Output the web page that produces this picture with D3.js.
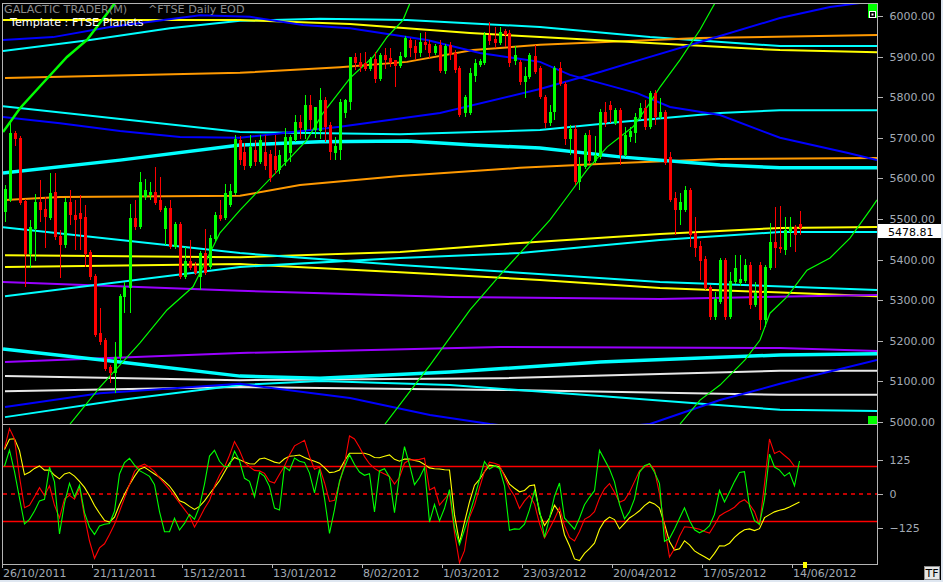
<!DOCTYPE html>
<html><head><meta charset="utf-8">
<script src="https://cdn.jsdelivr.net/npm/d3@7"></script>
<style>
body{margin:0;background:#000;overflow:hidden}
svg{display:block}
text{font-family:"DejaVu Sans",Verdana,sans-serif}
</style></head>
<body><svg id="c" width="943" height="582"></svg>
<script>
// ---------------- DATA ----------------
const tickIdx = [0,18,36,54,72,88,104,122,140,158];
const tickLabels = ["26/10/2011","21/11/2011","15/12/2011","13/01/2012","8/02/2012","1/03/2012","23/03/2012","20/04/2012","17/05/2012","14/06/2012"];
const priceTicks = [5000,5100,5200,5300,5400,5500,5600,5700,5800,5900,6000];
const oscTicks = [-125,0,125];
const lastPrice = 5478.81;

const open = [5517,5547,5712,5700,5544,5414,5475,5542,5525,5502,5566,5458,5436,5542,5510,5515,5505,5419,5360,5219,
5202,5135,5121,5160,5308,5330,5502,5480,5554,5559,5566,5547,5475,5527,5431,5488,5357,5397,5384,5357,
5416,5382,5451,5510,5502,5535,5564,5695,5665,5630,5670,5640,5665,5660,5655,5620,5640,5663,5695,5739,
5719,5781,5719,5717,5793,5732,5663,5670,5761,5788,5899,5887,5884,5869,5894,5845,5904,5897,5892,5877,
5899,5941,5926,5909,5936,5931,5909,5929,5865,5929,5909,5872,5761,5761,5852,5879,5884,5953,5943,5933,
5963,5958,5890,5887,5837,5850,5901,5872,5800,5736,5764,5872,5833,5697,5722,5591,5628,5707,5643,5653,
5764,5781,5736,5768,5658,5702,5712,5751,5773,5727,5810,5751,5764,5653,5552,5522,5522,5571,5466,5434,
5401,5333,5259,5296,5399,5259,5345,5342,5347,5387,5288,5387,5251,5379,5443,5431,5424,5468,5480,5488];
const high = [5584,5744,5717,5705,5549,5498,5562,5596,5554,5613,5613,5473,5552,5571,5547,5559,5535,5424,5365,5281,
5207,5140,5197,5315,5345,5537,5547,5616,5599,5591,5628,5604,5532,5547,5493,5493,5431,5448,5394,5421,
5475,5461,5517,5547,5586,5586,5707,5705,5687,5707,5695,5707,5707,5670,5707,5670,5724,5707,5756,5756,
5805,5805,5776,5822,5800,5740,5702,5795,5795,5899,5909,5909,5911,5899,5911,5909,5921,5921,5892,5911,
5951,5946,5941,5958,5961,5941,5931,5941,5931,5936,5916,5877,5805,5872,5894,5894,5961,5985,5973,5973,
5968,5966,5926,5892,5874,5909,5929,5877,5805,5781,5877,5887,5837,5732,5732,5653,5712,5719,5704,5771,
5788,5791,5773,5773,5727,5727,5761,5786,5793,5815,5818,5798,5768,5665,5566,5564,5581,5576,5505,5446,
5409,5338,5320,5404,5404,5370,5411,5411,5401,5394,5345,5394,5387,5490,5530,5532,5505,5505,5485,5520];
const low = [5493,5542,5680,5535,5333,5379,5397,5493,5429,5498,5448,5355,5429,5485,5424,5424,5382,5350,5209,5190,
5126,5096,5071,5153,5268,5268,5473,5475,5547,5547,5535,5517,5436,5426,5426,5352,5352,5374,5362,5325,
5362,5377,5446,5495,5498,5530,5559,5633,5620,5625,5630,5635,5620,5590,5610,5610,5630,5640,5690,5697,
5697,5719,5700,5697,5690,5645,5645,5645,5750,5768,5867,5862,5865,5865,5835,5840,5869,5874,5825,5872,
5897,5899,5892,5899,5916,5897,5904,5860,5857,5892,5860,5751,5751,5756,5837,5874,5879,5929,5921,5929,
5924,5874,5879,5830,5798,5845,5857,5796,5724,5729,5744,5828,5682,5658,5584,5571,5623,5638,5638,5648,
5727,5736,5732,5633,5653,5690,5687,5744,5719,5722,5732,5746,5633,5542,5461,5485,5517,5431,5406,5350,
5325,5251,5251,5291,5251,5254,5340,5335,5342,5278,5283,5227,5234,5374,5379,5416,5411,5431,5419,5461];
const close = [5574,5712,5697,5539,5414,5480,5542,5522,5505,5564,5456,5436,5542,5510,5498,5500,5414,5357,5214,5197,
5130,5121,5160,5310,5333,5502,5480,5591,5571,5566,5539,5522,5527,5431,5488,5357,5397,5379,5367,5416,
5367,5453,5510,5500,5564,5569,5697,5645,5630,5677,5640,5695,5630,5600,5620,5658,5702,5702,5739,5724,
5781,5744,5776,5793,5727,5665,5680,5788,5793,5899,5884,5874,5869,5894,5845,5904,5892,5884,5877,5901,
5946,5921,5909,5936,5929,5909,5926,5865,5926,5904,5867,5756,5800,5860,5884,5889,5953,5938,5933,5961,
5953,5884,5905,5837,5852,5904,5862,5800,5736,5764,5872,5833,5697,5722,5591,5631,5707,5643,5658,5764,
5736,5768,5768,5658,5707,5717,5751,5773,5727,5810,5751,5764,5638,5547,5522,5542,5571,5461,5429,5397,
5330,5259,5303,5399,5259,5347,5379,5352,5387,5288,5318,5251,5382,5443,5429,5426,5473,5480,5461,5478.81];

const oscGreen = [101,160,81,-15,-109,-92,-62,-25,-19,98,44,-145,-33,39,-11,32,-68,-121,-147,-116,
-110,-107,-63,73,114,130,105,85,75,64,34,-64,-137,-137,-88,-131,-107,-74,-92,-46,
36,138,159,119,99,101,156,121,57,46,-10,78,64,27,-51,-58,99,85,131,119,
115,76,4,90,-15,-143,-57,47,98,143,107,80,68,74,-65,84,92,61,-68,70,
172,107,34,59,96,-102,-38,-98,-52,16,-122,-184,-130,-73,-12,52,118,91,103,93,
30,-132,-127,-128,-110,-57,12,-57,-158,-88,-8,40,-87,-108,-128,-87,-39,-12,12,159,
125,91,44,-38,-90,-65,-18,78,103,110,79,38,-172,-162,-127,-88,-50,-96,-130,-141,
-132,-115,-74,13,-29,7,45,78,81,-44,-97,-110,-19,145,98,87,65,78,30,120];
const oscRed = [166,238,200,62,-50,-41,-10,23,-6,30,-41,-87,-18,-5,-19,22,-82,-171,-234,-196,
-181,-147,-110,-63,-15,34,82,101,109,97,82,59,38,16,-8,-32,-56,-80,-120,-88,
-53,-24,28,68,98,141,191,158,115,99,86,84,75,46,40,72,102,142,175,185,
195,137,90,98,41,-27,-23,41,110,211,200,170,136,110,93,82,73,64,36,61,
112,124,124,126,130,15,24,-40,-19,4,-141,-250,-206,-85,-41,23,82,116,112,105,
63,21,-7,-53,-25,-5,-36,-108,-160,-126,-91,-50,-115,-158,-171,-136,-92,-82,-64,-15,
19,38,6,-30,-22,6,45,84,98,110,87,0,-120,-229,-199,-154,-119,-121,-124,-128,
-136,-142,-113,-80,-68,-59,-48,-30,-21,-38,-64,-114,36,200,147,156,140,125,100,100];
const oscYellow = [162,199,201,158,70,79,93,102,87,87,68,55,73,78,65,46,24,-6,-42,-70,
-96,-102,-84,-39,-1,34,64,90,97,85,73,61,46,29,4,-25,-32,-45,-56,-45,
-25,0,24,48,80,112,133,125,116,110,109,127,131,124,116,112,128,137,139,142,
133,125,119,112,96,78,80,87,120,148,148,148,148,143,133,132,137,142,126,119,
127,127,122,118,107,95,92,91,88,87,-76,-178,-102,-29,32,53,81,105,103,99,
69,36,21,8,13,30,33,-69,-115,-87,-41,-67,-148,-188,-236,-242,-216,-199,-179,-128,
-98,-84,-93,-127,-107,-87,-75,-61,-42,-29,-36,-51,-109,-173,-204,-199,-170,-185,-207,-218,
-228,-239,-216,-188,-189,-179,-158,-142,-130,-127,-133,-126,-86,-75,-65,-59,-55,-47,-38,-29];

// planetary lines: [bar index, price]
const cyanTop = [[-0.3,5914],[17.1,5941],[33.1,5970],[47.1,5988],[63.1,5993],[80.5,5990],[107.1,5973],[129.1,5948],[155.1,5926],[174.5,5926]];
const yellowTop = [[-0.3,5990],[47.1,5990],[69.1,5980],[93.1,5958],[107.1,5948],[155.1,5916],[174.5,5911]];
const orangeTop = [[0.1,5847],[47.1,5860],[67.1,5874],[80.5,5887],[93.7,5916],[107.1,5929],[139.1,5946],[174.5,5953]];
const blueRise = [[-0.3,5751],[11.1,5736],[23.1,5717],[35.1,5702],[47.1,5700],[67.1,5727],[87.1,5761],[107.1,5820],[119.1,5862],[127.1,5892],[139.1,5936],[155.1,5995],[165.1,6022],[171.1,6032]];
const blueFall = [[-0.3,5941],[9.7,5948],[21.1,5973],[39.1,6002],[49.1,5998],[59.7,5978],[69.1,5970],[84.5,5941],[95.1,5909],[107.1,5887],[113.1,5855],[126.5,5810],[133.1,5776],[143.1,5756],[155.1,5700],[168.5,5663],[174.5,5645]];
const cyanMid = [[-0.3,5778],[47.1,5714],[79.1,5709],[107.1,5719],[123.1,5739],[143.1,5761],[155.1,5768],[174.5,5768]];
const cyanThick = [[-0.3,5613],[23.1,5645],[47.1,5682],[63.1,5690],[80.5,5692],[93.7,5682],[107.1,5675],[123.1,5653],[143.1,5633],[155.1,5626],[174.5,5626]];
const orangeMid = [[0.1,5547],[11.1,5554],[47.1,5557],[59.1,5584],[79.1,5606],[103.1,5626],[123.1,5638],[143.1,5648],[174.5,5650]];
const yellowA = [[0.1,5411],[47.1,5406],[79.1,5419],[103.1,5441],[131.1,5463],[155.1,5478],[174.5,5480]];
const yellowB = [[0.1,5382],[47.1,5389],[79.1,5369],[107.1,5350],[131.1,5330],[174.5,5310]];
const cyanFall = [[-0.3,5480],[47.1,5416],[79.1,5387],[131.1,5345],[174.5,5325]];
const cyanRise = [[0.1,5310],[47.1,5382],[79.1,5404],[103.1,5416],[131.1,5448],[155.1,5468],[174.5,5468]];
const purpleA = [[-0.3,5345],[47.1,5323],[89.1,5308],[131.1,5303],[174.5,5313]];
const purpleB = [[0.1,5148],[47.1,5170],[99.1,5185],[155.1,5182],[174.5,5175]];
const cyanLow = [[-0.3,5180],[23.1,5148],[47.1,5113],[63.1,5108],[89.1,5123],[119.1,5148],[155.1,5165],[174.5,5168]];
const whiteA = [[0.1,5113],[47.1,5103],[99.1,5108],[155.1,5126],[174.5,5126]];
const whiteB = [[0.1,5076],[47.1,5086],[99.1,5079],[155.1,5067],[174.5,5067]];
const cyanBottom = [[0.1,5012],[23.1,5054],[47.1,5091],[63.1,5101],[89.1,5091],[119.1,5064],[155.1,5030],[174.5,5027]];
const blueBottom = [[0.1,5037],[19.1,5071],[47.1,5094],[69.1,5059],[85.1,5017],[97.1,4995],[111.1,4975],[129.1,4995],[143.1,5054],[155.1,5094],[174.5,5153]];
const greenA = [[-0.3,5714],[3.1,5773],[7.7,5835],[12.5,5899],[16.5,5941],[22.1,6032],[23.1,6052]];
const greenB = [[13.1,4995],[19.1,5086],[27.1,5195],[32.5,5276],[37.7,5333],[43.1,5466],[47.1,5522],[56.7,5645],[60.5,5695],[63.7,5761],[69.1,5847],[73.7,5899],[76.5,5948],[79.7,5990],[81.1,6032]];
const greenC = [[76.1,4995],[85.1,5140],[93.1,5276],[99.1,5362],[103.1,5416],[109.1,5498],[113.1,5564],[116.5,5621],[120.5,5677],[125.7,5727],[129.1,5786],[131.1,5825],[135.1,5892],[139.1,5966],[142.1,6032]];
const greenD = [[135.1,4995],[139.1,5054],[143.1,5091],[148.1,5153],[151.1,5202],[153.1,5268],[156.5,5308],[160.5,5374],[165.1,5404],[169.1,5453],[173.1,5522],[174.5,5547]];

// ---------------- STYLES ----------------
const lineStyles = [
  [orangeMid,"#ff9900",2],[yellowA,"#ffff00",2],[yellowB,"#ffff00",2],
  [purpleA,"#9900ff",2],[purpleB,"#9900ff",2],[whiteA,"#e8e8e8",2],[whiteB,"#e8e8e8",2],
  [cyanFall,"#00ffff",2],[cyanRise,"#00ffff",2],[cyanBottom,"#00ffff",2],[cyanLow,"#00ffff",3.5],
  [cyanMid,"#00ffff",2],[cyanThick,"#00ffff",3.5],[cyanTop,"#00ffff",2],
  [orangeTop,"#ff9900",2],[yellowTop,"#ffff00",2],
  [blueRise,"#0000ff",2],[blueFall,"#0000ff",2],[blueBottom,"#0000ff",2],
  [greenB,"#00ff00",1.2],[greenC,"#00ff00",1.2],[greenD,"#00ff00",1.2],[greenA,"#00ff00",2.5]
];

const svg = d3.select("#c");
const L=3, R=877, T=3, MB=424, OB=564;
svg.append("rect").attr("width",943).attr("height",582).attr("fill","#000");

const x = d3.scaleLinear().domain([0,159]).range([4.5,799.5]);
const y = d3.scaleLinear().domain([5000,6000]).range([422,16]);
const yo = d3.scaleLinear().domain([-100,100]).range([521.5,466.5]);

const defs = svg.append("defs");
defs.append("clipPath").attr("id","cm").append("rect").attr("x",L).attr("y",T).attr("width",R-L).attr("height",MB-T);
defs.append("clipPath").attr("id","co").append("rect").attr("x",L).attr("y",MB+1).attr("width",R-L).attr("height",OB-MB-1);

const main = svg.append("g").attr("clip-path","url(#cm)");
const line = d3.line().x(d=>x(d[0])).y(d=>y(d[1]));
lineStyles.forEach(([pts,col,w])=>{
  main.append("path").attr("d",line(pts)).attr("fill","none").attr("stroke",col).attr("stroke-width",w);
});

// candles
const idx = d3.range(open.length);
const cg = main.append("g").attr("shape-rendering","crispEdges");
idx.forEach(i=>{
  const up = close[i]>=open[i];
  const col = up ? "#00ff00" : "#ff0000";
  const cx = Math.round(x(i));
  cg.append("line").attr("x1",cx+0.5).attr("x2",cx+0.5).attr("y1",y(high[i])).attr("y2",y(low[i])).attr("stroke",col).attr("stroke-width",1);
  const top = y(Math.max(open[i],close[i])), bot = y(Math.min(open[i],close[i]));
  cg.append("rect").attr("x",cx-1).attr("y",top).attr("width",3).attr("height",Math.max(1,bot-top)).attr("fill",col);
});

// oscillator
const osc = svg.append("g").attr("clip-path","url(#co)");
[[100,"none"],[-100,"none"],[0,"4,4"]].forEach(([v,da])=>{
  osc.append("line").attr("x1",L).attr("x2",R).attr("y1",yo(v)).attr("y2",yo(v))
    .attr("stroke","#ff0000").attr("stroke-width",1.6).attr("stroke-dasharray",da);
});
const oline = d3.line().x((d,i)=>x(i)).y(d=>yo(d));
[[oscYellow,"#ffff00"],[oscRed,"#ff0000"],[oscGreen,"#00ff00"]].forEach(([arr,col])=>{
  osc.append("path").attr("d",oline(arr)).attr("fill","none").attr("stroke",col).attr("stroke-width",1.1);
});

// frame
const fr = svg.append("g").attr("stroke","#b4b4b4").attr("stroke-width",1).attr("shape-rendering","crispEdges");
fr.append("line").attr("x1",L-0.5).attr("x2",L-0.5).attr("y1",T).attr("y2",OB+0.5);
fr.append("line").attr("x1",R+0.5).attr("x2",R+0.5).attr("y1",T).attr("y2",OB+0.5);
fr.append("line").attr("x1",L-0.5).attr("x2",R+0.5).attr("y1",T+0.5).attr("y2",T+0.5);
fr.append("line").attr("x1",L-0.5).attr("x2",R+0.5).attr("y1",MB+0.5).attr("y2",MB+0.5);
fr.append("line").attr("x1",L-0.5).attr("x2",R+0.5).attr("y1",OB+0.5).attr("y2",OB+0.5);

const axCol = "#a3abb5";
function styleAxis(g){
  g.select(".domain").remove();
  g.selectAll(".tick line").attr("stroke","#b4b4b4").attr("shape-rendering","crispEdges");
  g.selectAll(".tick text").attr("fill",axCol).style("font-size","11px").style("font-family","DejaVu Sans");
}
const pa = svg.append("g").attr("transform",`translate(${R+0.5},0)`)
  .call(d3.axisRight(y).tickValues(priceTicks).tickFormat(d3.format(".2f")).tickSize(5));
styleAxis(pa); pa.selectAll(".tick text").attr("x",12);

const oa = svg.append("g").attr("transform",`translate(${R+0.5},0)`)
  .call(d3.axisRight(yo).tickValues(oscTicks).tickFormat(d3.format("d")).tickSize(5));
styleAxis(oa); oa.selectAll(".tick text").attr("x",12);

const xt = d3.scaleLinear().domain([0,159]).range([2,797]);
const xa = svg.append("g").attr("transform",`translate(0,${OB+0.5})`)
  .call(d3.axisBottom(xt).tickValues(tickIdx).tickFormat((d,i)=>tickLabels[i]).tickSize(3));
styleAxis(xa); xa.selectAll(".tick text").attr("text-anchor","start").attr("x",0.5).attr("y",5);

// header
svg.append("text").attr("x",4).attr("y",12.5).attr("fill","#8a8a8a").style("font-size","11.2px").text("GALACTIC TRADER(M)");
svg.append("text").attr("x",148).attr("y",12.5).attr("fill","#8a8a8a").style("font-size","11.2px").text("^FTSE Daily EOD");
svg.append("text").attr("x",10).attr("y",26).attr("fill","#ffffff").style("font-size","11.2px").text("Template : FTSE Planets");

// last price box
svg.append("rect").attr("x",R+1).attr("y",224).attr("width",63).attr("height",14).attr("fill","#ffffff");
svg.append("text").attr("x",888).attr("y",235.5).attr("fill","#000").style("font-size","11px").text(d3.format(".2f")(lastPrice));

// markers
svg.append("rect").attr("x",868).attr("y",4).attr("width",9).attr("height",14).attr("fill","#00ff00");
svg.append("rect").attr("x",869.5).attr("y",11.5).attr("width",6).attr("height",6).attr("fill","#000").attr("stroke","#fff").attr("stroke-width",1);
svg.append("rect").attr("x",871.5).attr("y",13.5).attr("width",2).attr("height",2).attr("fill","#fff");
svg.append("rect").attr("x",868).attr("y",416).attr("width",9).attr("height",8).attr("fill","#00ff00");
svg.append("rect").attr("x",803).attr("y",562).attr("width",4).attr("height",6).attr("fill","#ffff00");
svg.append("rect").attr("x",924.5).attr("y",566.5).attr("width",15).attr("height",13).attr("fill","#e6e6e6").attr("stroke","#8c8c8c");
svg.append("text").attr("x",925.5).attr("y",577).attr("fill","#000").style("font-size","11px").text("TF");
svg.append("rect").attr("x",941).attr("y",0).attr("width",2).attr("height",582).attr("fill","#dfe7f1");
svg.append("rect").attr("x",0).attr("y",580).attr("width",943).attr("height",2).attr("fill","#dfe7f1");
</script></body></html>
